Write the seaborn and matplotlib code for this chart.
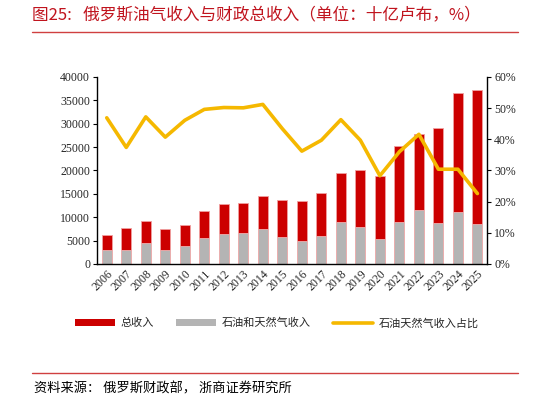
import matplotlib
matplotlib.use("Agg")
import matplotlib.pyplot as plt
import numpy as np
import pandas as pd
import seaborn as sns
from matplotlib.patches import Patch
from matplotlib.lines import Line2D

years = [str(y) for y in range(2006, 2026)]
total_rev = [6300, 7760, 9250, 7400, 8330, 11390, 12880, 12950, 14520, 13670,
             13450, 15090, 19360, 20200, 18720, 25270, 27760, 29110, 36650, 37220]
oil_gas_rev = [3000, 2920, 4480, 3000, 3840, 5620, 6480, 6550, 7400, 5840,
               4910, 5980, 9040, 7900, 5270, 9040, 11600, 8830, 11100, 8540]
oil_gas_share = [46.9, 37.4, 47.2, 40.7, 46.1, 49.6, 50.2, 50.1, 51.2, 43.4,
                 36.2, 39.7, 46.3, 39.7, 28.3, 36.0, 41.6, 30.4, 30.4, 22.6]

df = pd.DataFrame({"year": years, "total": total_rev, "oilgas": oil_gas_rev,
                   "share": oil_gas_share})
df["pos"] = np.arange(len(df))

sns.set_style("white")
plt.rcParams['font.family'] = ['Noto Sans CJK SC', 'DejaVu Sans']

RED = "#CC0000"
GRAY = "#B4B4B4"
YELLOW = "#F5B800"
num_font = "Liberation Serif"

fig = plt.figure(figsize=(5.48, 4.03), dpi=100)
ax = fig.add_axes([0.177, 0.345, 0.712, 0.464])

# overlapping bars: total behind, oil & gas in front
sns.barplot(data=df, x="year", y="total", color=RED, width=0.52,
            edgecolor="#F0A0A0", linewidth=0.6, saturation=1, ax=ax)
sns.barplot(data=df, x="year", y="oilgas", color=GRAY, width=0.52,
            edgecolor="#F0B0B0", linewidth=0.6, saturation=1, ax=ax)

ax.set_xlim(-0.5, 19.5)
ax.set_ylim(0, 40000)
ax.set_yticks(np.arange(0, 40001, 5000))
ax.set_xlabel("")
ax.set_ylabel("")
ax.set_xticks(range(len(years)))
ax.set_xticklabels(years, rotation=45, ha="right", rotation_mode="anchor",
                   fontfamily=num_font, fontsize=8.5)
ax.set_xticks(np.arange(-0.5, 20, 1), minor=True)
ax.tick_params(axis="x", which="major", length=0, pad=3)
ax.tick_params(axis="x", which="minor", length=3, width=0.8, direction="out", color="black")
ax.tick_params(axis="y", length=3, width=0.8, direction="out", color="black", pad=2)
for lab in ax.get_yticklabels():
    lab.set_fontfamily(num_font)
    lab.set_fontsize(8.5)
for s in ["left", "bottom"]:
    ax.spines[s].set_color("black")
    ax.spines[s].set_linewidth(1.0)
ax.spines["top"].set_visible(False)
ax.spines["right"].set_visible(False)

ax2 = ax.twinx()
sns.lineplot(data=df, x="pos", y="share", color=YELLOW, linewidth=2.6, ax=ax2)
ax2.set_ylim(0, 60)
ax2.set_yticks(np.arange(0, 61, 10))
ax2.set_yticklabels([f"{v}%" for v in range(0, 61, 10)], fontfamily=num_font, fontsize=8.5)
ax2.set_xlim(-0.5, 19.5)
ax2.set_ylabel("")
ax2.set_xlabel("")
ax2.tick_params(axis="y", length=3, width=0.8, direction="out", color="black", pad=2)
ax2.spines["top"].set_visible(False)
ax2.spines["left"].set_visible(False)
ax2.spines["bottom"].set_visible(False)
ax2.spines["right"].set_color("black")
ax2.spines["right"].set_linewidth(1.0)

handles = [Patch(facecolor=RED, edgecolor="none"),
           Patch(facecolor=GRAY, edgecolor="none"),
           Line2D([0], [0], color=YELLOW, linewidth=2.6)]
labels = ["总收入", "石油和天然气收入", "石油天然气收入占比"]
fig.legend(handles, labels, loc="center", bbox_to_anchor=(0.505, 0.198), ncol=3,
           frameon=False, fontsize=8, handlelength=3.6, handleheight=0.5,
           columnspacing=2.0, handletextpad=0.5)

fig.text(0.058, 0.962, "图25:   俄罗斯油气收入与财政总收入（单位：十亿卢布，%）",
         color="#C0141E", fontsize=12, va="center", ha="left")
fig.add_artist(Line2D([0.058, 0.945], [0.92, 0.92], color="#D04040", linewidth=1.0,
                      transform=fig.transFigure))
fig.add_artist(Line2D([0.058, 0.945], [0.075, 0.075], color="#D04040", linewidth=1.0,
                      transform=fig.transFigure))
fig.text(0.062, 0.035, "资料来源： 俄罗斯财政部， 浙商证券研究所", color="black",
         fontsize=9.5, va="center", ha="left")

fig.savefig("out.png", dpi=100)
